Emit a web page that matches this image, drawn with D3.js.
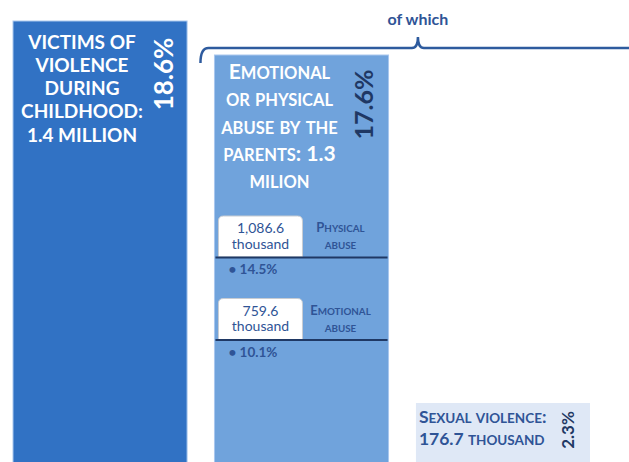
<!DOCTYPE html>
<html>
<head>
<meta charset="utf-8">
<script src="https://d3js.org/d3.v7.min.js"></script>
<style>
  body { margin: 0; background: #fff; }
  text { font-family: Lato, "Open Sans", sans-serif; }
</style>
</head>
<body>
<div id="chart"></div>
<script>
// data
var categories = ["childhood", "parents", "sexual"];
var shares = [18.6, 17.6, 2.3];
var titles = [
  ["VICTIMS OF", "VIOLENCE", "DURING", "CHILDHOOD:", "1.4 MILLION"],
  ["Emotional", "or physical", "abuse by the", "parents: 1.3", "milion"],
  ["Sexual violence:", "176.7 thousand"]
];
var subCategories = ["Physical abuse", "Emotional abuse"];
var subCounts = ["1,086.6", "759.6"];
var subShares = [14.5, 10.1];
var barColors = ["#3172c4", "#70a3dc", "#dfe8f6"];

var width = 629, height = 462;
var navy = "#1f3864", blue = "#2f5496";

var svg = d3.select("#chart").append("svg")
  .attr("width", width).attr("height", height);

var x = d3.scaleBand().domain(categories).range([13, 590]).paddingInner(0.136);
// the picture is not drawn to scale, so the y scale is piecewise
var y = d3.scaleLinear().domain([0, 2.3, 17.6, 18.6]).range([520, 403, 55, 21]);

var bars = categories.map(function(c, i) { return {cat: c, share: shares[i], color: barColors[i]}; });

svg.selectAll("rect.bar").data(bars).enter().append("rect")
  .attr("class", "bar")
  .attr("x", function(d) { return x(d.cat); })
  .attr("y", function(d) { return y(d.share); })
  .attr("width", x.bandwidth())
  .attr("height", function(d) { return height + 5 - y(d.share); })
  .attr("fill", function(d) { return d.color; })
  .attr("stroke", function(d, i) { return i < 2 ? "#a9c7ee" : "none"; })
  .attr("stroke-width", 1);

// small caps: capitals/digits big, lower-case letters shown as smaller capitals
function caps(sel, str, big, small) {
  var parts = [];
  for (var k = 0; k < str.length; k++) {
    var ch = str[k];
    var lower = ch !== ch.toUpperCase();
    var size = lower ? small : big;
    var last = parts[parts.length - 1];
    if (last && last.size === size) last.t += ch.toUpperCase();
    else parts.push({t: ch.toUpperCase(), size: size});
  }
  parts.forEach(function(p) { sel.append("tspan").attr("font-size", p.size).text(p.t); });
}

// bar 1 title
var x1 = x(categories[0]);
titles[0].forEach(function(line, i) {
  svg.append("text")
    .attr("x", x1 + 69).attr("y", 48.5 + i * 23.3)
    .attr("text-anchor", "middle").attr("font-weight", 700)
    .attr("font-size", 19).attr("fill", "#fff")
    .text(line);
});

// bar 2 title
var x2 = x(categories[1]);
titles[1].forEach(function(line, i) {
  var t = svg.append("text")
    .attr("x", x2 + 65).attr("y", 79.3 + i * 27.1)
    .attr("text-anchor", "middle").attr("font-weight", 700)
    .attr("fill", "#fff");
  caps(t, line, 21, 16.5);
});

// bar 3 title
var x3 = x(categories[2]);
titles[2].forEach(function(line, i) {
  var t = svg.append("text")
    .attr("x", x3 + 3).attr("y", 423 + i * 22)
    .attr("font-weight", 700).attr("fill", blue);
  caps(t, line, 17.5, 13.5);
});

// rotated shares
var pct = [
  {cx: x1 + 160, cy: 74, size: 26, color: "#fff"},
  {cx: x2 + 159, cy: 104.5, size: 25, color: navy},
  {cx: x3 + 158, cy: 430, size: 17, color: navy}
];
bars.forEach(function(d, i) {
  svg.append("text")
    .attr("transform", "translate(" + pct[i].cx + "," + pct[i].cy + ") rotate(-90)")
    .attr("text-anchor", "middle").attr("font-weight", 700)
    .attr("font-size", pct[i].size).attr("fill", pct[i].color)
    .text(d3.format(".1f")(d.share) + "%");
});

// sub rows inside bar 2
var ys = d3.scaleBand().domain(subCategories).range([216, 216 + 2 * 82.5]);
var rows = subCategories.map(function(c, i) { return {cat: c, count: subCounts[i], share: subShares[i]}; });
var row = svg.selectAll("g.row").data(rows).enter().append("g")
  .attr("class", "row")
  .attr("transform", function(d) { return "translate(" + x2 + "," + ys(d.cat) + ")"; });

row.append("path")
  .attr("d", "M4,41 L4,5 Q4,0 9,0 L83,0 Q88,0 88,5 L88,41 Z")
  .attr("fill", "#fff").attr("stroke", "#c8ccd2").attr("stroke-width", 1);
row.append("text")
  .attr("x", 46).attr("y", 17).attr("text-anchor", "middle")
  .attr("font-size", 14).attr("fill", blue)
  .text(function(d) { return d.count; });
row.append("text")
  .attr("x", 46).attr("y", 32.5).attr("text-anchor", "middle")
  .attr("font-size", 14).attr("fill", blue)
  .text("thousand");
row.each(function(d) {
  var g = d3.select(this);
  var words = d.cat.split(" ");
  var t1 = g.append("text").attr("x", 126).attr("y", 16).attr("text-anchor", "middle")
    .attr("font-weight", 700).attr("fill", blue);
  caps(t1, words[0], 13, 9.8);
  var t2 = g.append("text").attr("x", 126).attr("y", 33).attr("text-anchor", "middle")
    .attr("font-weight", 700).attr("fill", blue);
  caps(t2, words[1], 13, 9.8);
});
row.append("line")
  .attr("x1", 1).attr("x2", x.bandwidth() - 1)
  .attr("y1", 41.5).attr("y2", 41.5)
  .attr("stroke", navy).attr("stroke-width", 2);
row.append("text")
  .attr("x", 14).attr("y", 58).attr("font-weight", 700)
  .attr("font-size", 13.5).attr("fill", blue)
  .text(function(d) { return "\u2022 " + d.share + "%"; });

// brace "of which"
var bl = x2 - 14, bm = x3 + 2, by = 48;
svg.append("path")
  .attr("d", "M" + bl + "," + (by + 15) + " Q" + bl + "," + by + " " + (bl + 8) + "," + by +
    " L" + (bm - 6) + "," + by + " Q" + bm + "," + by + " " + bm + "," + (by - 11) +
    " Q" + bm + "," + by + " " + (bm + 6) + "," + by + " L" + width + "," + by)
  .attr("fill", "none").attr("stroke", "#2e5b9e").attr("stroke-width", 2.5);
svg.append("text")
  .attr("x", bm).attr("y", 25).attr("text-anchor", "middle")
  .attr("font-weight", 700).attr("font-size", 16).attr("fill", blue)
  .text("of which");
</script>
</body>
</html>
